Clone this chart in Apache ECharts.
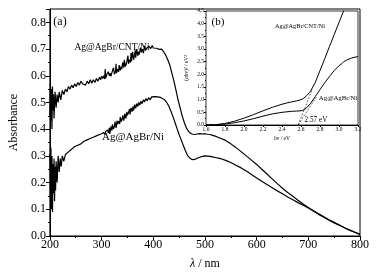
<!DOCTYPE html>
<html>
<head>
<meta charset="utf-8">
<script src="https://cdn.jsdelivr.net/npm/echarts@6/dist/echarts.min.js"></script>
<style>
  html, body { margin: 0; padding: 0; background: #fff; }
  #chart { width: 381px; height: 275px; }
</style>
</head>
<body>
<div id="chart"></div>
<script>
// main panel (a): absorbance vs wavelength, [nm, A]
var cntAbs = [[200,0.45],[201,0.57],[202,0.43],[203,0.55],[204,0.40],[205,0.56],[206,0.47],[207,0.53],[208,0.44],[210,0.54],[212,0.48],[214,0.53],[216,0.50],[218,0.54],[221,0.51],[224,0.545],[227,0.53],[230,0.55],[233,0.54],[236,0.56],[239,0.55],[242,0.565],[245,0.555],[248,0.57],[251,0.56],[254,0.575],[257,0.565],[260,0.58],[263,0.57],[266,0.575],[269,0.565],[272,0.58],[275,0.57],[278,0.585],[281,0.572],[284,0.585],[287,0.575],[290,0.59],[293,0.58],
  [296,0.595],[298,0.585],[300,0.598],[302,0.59],[304,0.60],[306,0.588],[307,0.625],[308,0.59],[310,0.605],[312,0.598],[313,0.615],[315,0.60],[317,0.61],[318,0.598],[320,0.612],[322,0.605],[323,0.63],[325,0.605],[327,0.618],[328,0.645],[329,0.61],[331,0.625],[333,0.615],[334,0.64],[336,0.62],[338,0.635],[339,0.625],[341,0.65],[343,0.63],[344,0.66],[346,0.635],[348,0.645],[350,0.64],[351,0.675],[352,0.645],[354,0.66],[356,0.65],[357,0.685],[358,0.655],[360,0.69],[362,0.66],[364,0.68],[365,0.695],[366,0.668],[368,0.70],[370,0.675],[372,0.69],[373,0.68],[375,0.705],[377,0.688],[379,0.70],[381,0.685],[383,0.712],[385,0.695],[388,0.705],[390,0.698],[392,0.71],[395,0.702],[398,0.713],[400,0.704],[403,0.711],[406,0.703],[409,0.707],[412,0.699],[416,0.70],[420,0.69],
  [424,0.678],[428,0.66],[432,0.64],[436,0.61],[440,0.58],[444,0.545],[448,0.51],[452,0.48],[456,0.45],[460,0.425],[464,0.405],[468,0.392],[472,0.385],[476,0.381],[480,0.38],[485,0.382],[490,0.383],[495,0.382],[500,0.383],[505,0.381],[510,0.38],[515,0.377],[520,0.374],[525,0.37],[530,0.366],[540,0.358],[550,0.345],[560,0.331],[570,0.316],[580,0.30],[590,0.284],[600,0.268],[610,0.25],[620,0.232],[630,0.214],[640,0.196],[650,0.179],[660,0.163],[670,0.149],[680,0.134],[690,0.12],[700,0.107],[710,0.094],[720,0.081],[730,0.07],[740,0.059],[750,0.049],[760,0.04],[770,0.031],[780,0.022],[790,0.014],[800,0.006]];

var niAbs = [[200,0.31],[201,0.14],[202,0.33],[203,0.10],[204,0.30],[205,0.09],[206,0.27],[207,0.16],[208,0.29],[209,0.13],[210,0.26],[211,0.17],[212,0.28],[214,0.20],[216,0.30],[218,0.24],[220,0.29],[222,0.26],[224,0.30],[227,0.28],[230,0.305],[233,0.30],[236,0.315],[239,0.31],[242,0.325],[245,0.32],[248,0.335],[251,0.33],[254,0.34],[257,0.335],[260,0.345],[263,0.34],[266,0.355],[269,0.35],[272,0.36],[275,0.355],[278,0.365],[281,0.36],[284,0.37],[287,0.368],[290,0.375],[293,0.37],
  [296,0.38],[298,0.375],[300,0.383],[302,0.378],[304,0.388],[306,0.38],[308,0.392],[310,0.385],[312,0.397],[313,0.385],[315,0.405],[316,0.382],[318,0.41],[320,0.395],[321,0.418],[323,0.40],[325,0.412],[326,0.428],[328,0.405],[330,0.432],[331,0.418],[333,0.43],[335,0.42],[336,0.445],[338,0.428],[340,0.44],[341,0.452],[343,0.432],[345,0.458],[347,0.44],[349,0.465],[350,0.452],[352,0.462],[354,0.475],[355,0.455],[357,0.48],[359,0.466],[361,0.485],[362,0.47],[364,0.492],[366,0.478],[368,0.496],[370,0.485],[372,0.50],[374,0.49],[376,0.505],[378,0.495],[381,0.51],[383,0.502],[386,0.515],[388,0.506],[391,0.518],[394,0.51],[397,0.521],[400,0.514],[403,0.522],[406,0.516],[409,0.521],[412,0.515],[415,0.518],[418,0.515],[422,0.51],
  [426,0.50],[430,0.487],[434,0.468],[438,0.448],[442,0.425],[446,0.402],[450,0.38],[454,0.36],[458,0.34],[462,0.32],[466,0.303],[470,0.293],[474,0.287],[478,0.286],[482,0.288],[486,0.292],[490,0.295],[495,0.298],[500,0.30],[505,0.299],[510,0.298],[515,0.296],[520,0.294],[530,0.29],[540,0.283],[550,0.275],[560,0.265],[570,0.255],[580,0.243],[590,0.23],[600,0.217],[610,0.205],[620,0.193],[630,0.181],[640,0.169],[650,0.158],[660,0.146],[670,0.136],[680,0.125],[690,0.115],[700,0.105],[710,0.094],[720,0.083],[730,0.072],[740,0.061],[750,0.051],[760,0.041],[770,0.031],[780,0.022],[790,0.014],[800,0.006]];

// inset (b): Tauc plot, [hv, (ahv)^2]
var cntTauc = [[1.6,0.0],[1.7,0.01],[1.8,0.06],[1.9,0.15],[2.0,0.27],[2.1,0.41],[2.2,0.56],[2.3,0.70],[2.4,0.82],[2.45,0.87],[2.5,0.91],[2.55,0.95],[2.6,1.0],[2.63,1.06],[2.66,1.16],[2.7,1.33],[2.75,1.68],[2.8,2.15],[2.85,2.62],[2.9,3.1],[2.95,3.57],[3.0,4.05],[3.05,4.52]];
var niTauc = [[1.6,0.0],[1.7,0.01],[1.8,0.04],[1.9,0.09],[2.0,0.16],[2.1,0.25],[2.2,0.35],[2.3,0.44],[2.4,0.50],[2.5,0.54],[2.55,0.55],[2.6,0.56],[2.63,0.6],[2.66,0.68],[2.7,0.85],[2.75,1.12],[2.8,1.4],[2.85,1.67],[2.9,1.92],[2.95,2.15],[3.0,2.34],[3.03,2.42],[3.05,2.5],[3.07,2.52],[3.09,2.58],[3.11,2.6],[3.13,2.64],[3.15,2.63],[3.17,2.68],[3.19,2.66],[3.2,2.7]];
var cntTangent = [[2.57,0],[2.72,1.42]];
var niTangent = [[2.57,0],[2.76,1.1]];

var serif = '"Liberation Serif", "Times New Roman", serif';

var chart = echarts.init(document.getElementById('chart'), null, {renderer: 'canvas'});

function axisCommon(fontSize) {
  return {
    axisLine: {onZero: false, lineStyle: {color: '#000', width: 1}},
    axisTick: {show: true, inside: false, length: 4, lineStyle: {color: '#000'}},
    minorTick: {show: true, splitNumber: 2, length: 2, lineStyle: {color: '#000'}},
    splitLine: {show: false},
    axisLabel: {color: '#000', fontFamily: serif, fontSize: fontSize, margin: 3},
    nameTextStyle: {color: '#000', fontFamily: serif}
  };
}

var xMain = Object.assign(axisCommon(12), {
  type: 'value', gridIndex: 0, min: 200, max: 800, interval: 100,
  name: '{i|λ} / nm', nameLocation: 'middle', nameGap: 22,
  nameTextStyle: {color: '#000', fontFamily: serif, fontSize: 12,
    rich: {i: {fontStyle: 'italic', fontFamily: serif, fontSize: 12, color: '#000'}}}
});
var yMain = Object.assign(axisCommon(12), {
  type: 'value', gridIndex: 0, min: 0, max: 0.85, interval: 0.1,
  name: 'Absorbance', nameLocation: 'middle', nameGap: 27,
  nameTextStyle: {color: '#000', fontFamily: serif, fontSize: 12}
});
yMain.axisLabel = {color: '#000', fontFamily: serif, fontSize: 12, margin: 4, showMaxLabel: false,
  formatter: function (v) { return v.toFixed(1); }};

var xInset = Object.assign(axisCommon(5.5), {
  type: 'value', gridIndex: 1, min: 1.6, max: 3.2, interval: 0.2,
  name: '{i|hν} / eV', nameLocation: 'middle', nameGap: 11,
  nameTextStyle: {color: '#000', fontFamily: serif, fontSize: 5.5,
    rich: {i: {fontStyle: 'italic', fontFamily: serif, fontSize: 5.5, color: '#000'}}}
});
xInset.axisTick = {show: true, length: 2, lineStyle: {color: '#000'}};
xInset.minorTick = {show: true, splitNumber: 2, length: 1, lineStyle: {color: '#000'}};
xInset.axisLabel = {color: '#000', fontFamily: serif, fontSize: 5.5, margin: 2,
  formatter: function (v) { return v.toFixed(1); }};

var yInset = Object.assign(axisCommon(5.5), {
  type: 'value', gridIndex: 1, min: 0, max: 4.5, interval: 0.5,
  name: '({i|αhν})² / eV²', nameLocation: 'middle', nameGap: 16,
  nameTextStyle: {color: '#000', fontFamily: serif, fontSize: 5.5,
    rich: {i: {fontStyle: 'italic', fontFamily: serif, fontSize: 5.5, color: '#000'}}}
});
yInset.axisTick = {show: true, length: 2, lineStyle: {color: '#000'}};
yInset.minorTick = {show: true, splitNumber: 2, length: 1, lineStyle: {color: '#000'}};
yInset.axisLabel = {color: '#000', fontFamily: serif, fontSize: 5.5, margin: 2,
  formatter: function (v) { return v.toFixed(1); }};

function curve(data, xi, yi, width, dashed) {
  return {
    type: 'line', xAxisIndex: xi, yAxisIndex: yi, data: data,
    showSymbol: false, symbol: 'none', silent: true,
    lineStyle: {color: '#000', width: width, type: dashed ? [2, 1.5] : 'solid'},
    z: 3
  };
}

function text(t, x, y, size, extra) {
  return {
    type: 'text', z: 10,
    style: Object.assign({text: t, x: x, y: y, font: size + 'px ' + serif, fill: '#000',
      align: 'center', verticalAlign: 'middle'}, extra || {})
  };
}

var option = {
  animation: false,
  backgroundColor: '#fff',
  grid: [
    {left: 44, right: 21, top: 9, bottom: 38, show: true, borderColor: '#000', borderWidth: 1, backgroundColor: 'transparent'},
    {left: 206, right: 23, top: 11, bottom: 150, show: true, borderColor: '#000', borderWidth: 0.8, backgroundColor: '#fff', z: 2}
  ],
  xAxis: [xMain, xInset],
  yAxis: [yMain, yInset],
  series: [
    curve(cntAbs, 0, 0, 1.2),
    curve(niAbs, 0, 0, 1.2),
    curve(cntTauc, 1, 1, 1),
    curve(niTauc, 1, 1, 1),
    curve(cntTangent, 1, 1, 0.6, true),
    curve(niTangent, 1, 1, 0.6, true)
  ],
  graphic: [
    text('(a)', 60, 22, 12),
    text('Ag@AgBr/CNT/Ni', 112, 47, 9.5),
    text('Ag@AgBr/Ni', 133, 137, 11),
    text('(b)', 218, 22, 11),
    text('Ag@AgBr/CNT/Ni', 300, 26, 6.3),
    text('Ag@AgBr/Ni', 338, 98, 6.8),
    text('2.57 eV', 316, 120, 7.2)
  ]
};

chart.setOption(option);
</script>
</body>
</html>
